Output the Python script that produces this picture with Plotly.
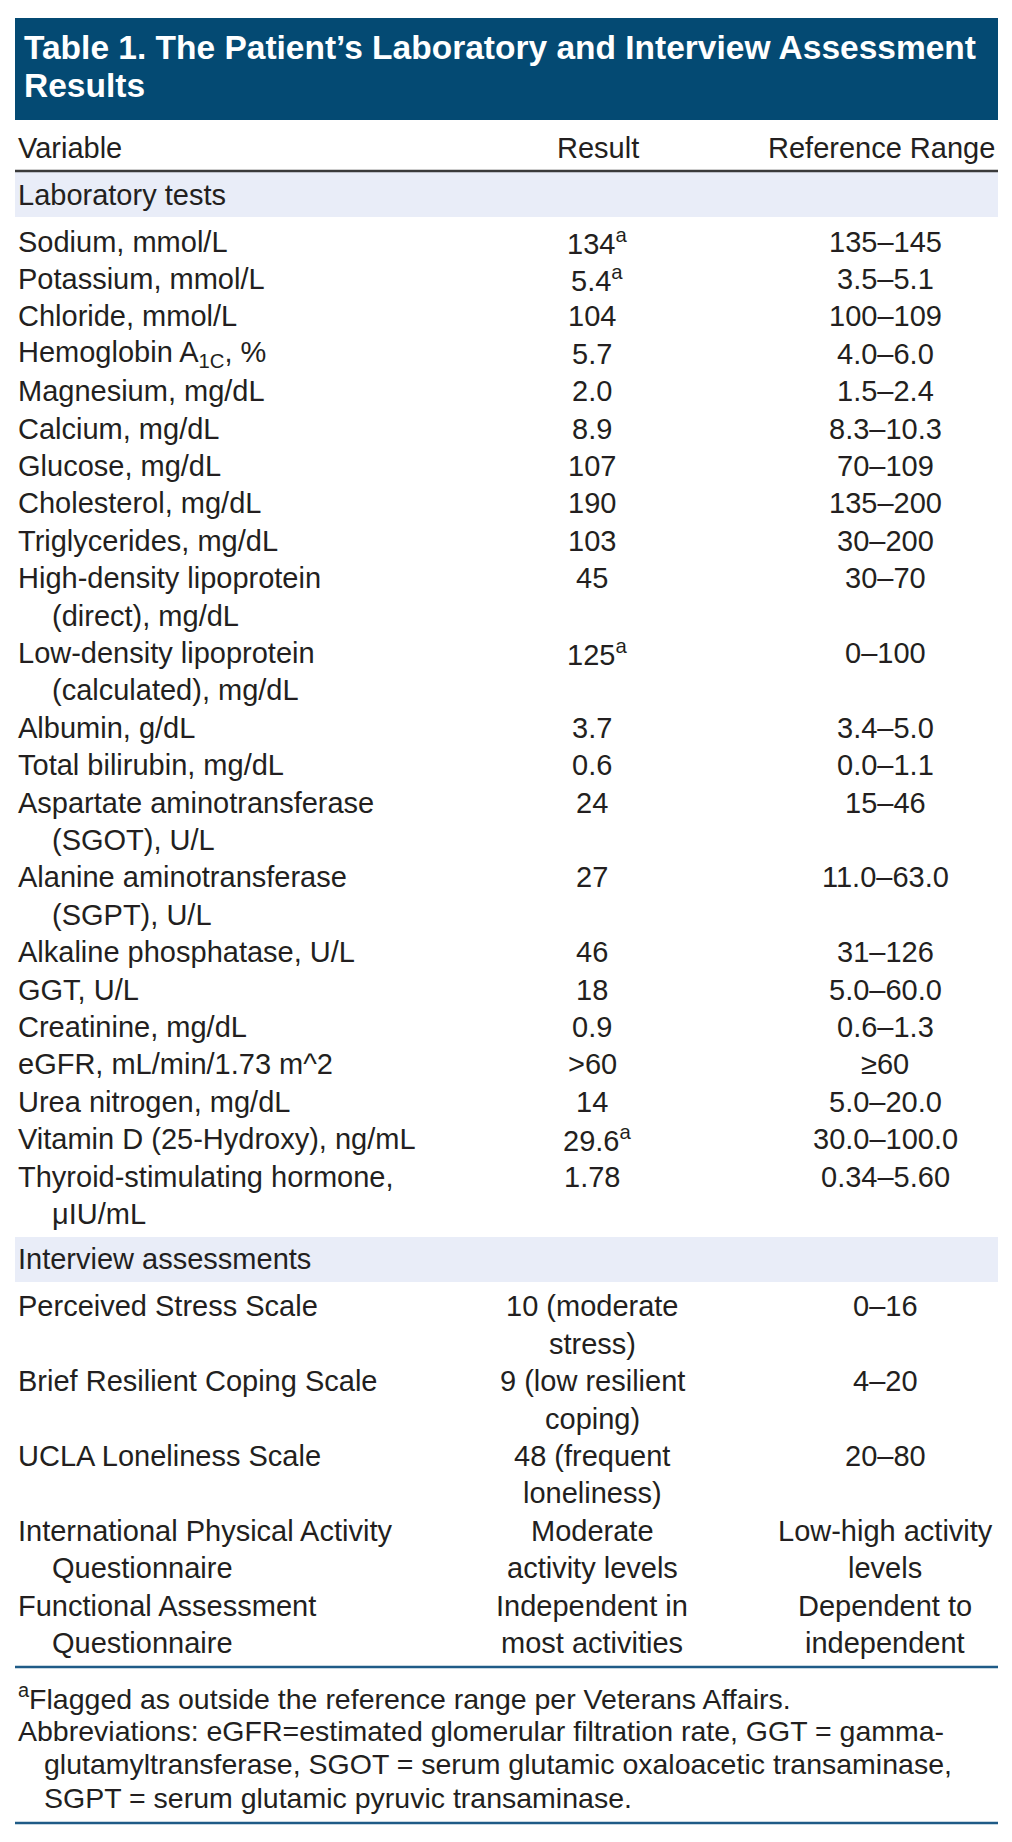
import plotly.graph_objects as go

# ---- table content ----
TITLE_LINES = ["Table 1. The Patient’s Laboratory and Interview Assessment", "Results"]
COLUMNS = ["Variable", "Result", "Reference Range"]

LAB_SECTION = "Laboratory tests"
LAB_VARS = [
    "Sodium, mmol/L", "Potassium, mmol/L", "Chloride, mmol/L",
    "Hemoglobin A<sub>1C</sub>, %", "Magnesium, mg/dL", "Calcium, mg/dL",
    "Glucose, mg/dL", "Cholesterol, mg/dL", "Triglycerides, mg/dL",
    "High-density lipoprotein|(direct), mg/dL",
    "Low-density lipoprotein|(calculated), mg/dL",
    "Albumin, g/dL", "Total bilirubin, mg/dL",
    "Aspartate aminotransferase|(SGOT), U/L",
    "Alanine aminotransferase|(SGPT), U/L",
    "Alkaline phosphatase, U/L", "GGT, U/L", "Creatinine, mg/dL",
    "eGFR, mL/min/1.73 m^2", "Urea nitrogen, mg/dL",
    "Vitamin D (25-Hydroxy), ng/mL", "Thyroid-stimulating hormone,|μIU/mL",
]
LAB_RESULTS = ["134", "5.4", "104", "5.7", "2.0", "8.9", "107", "190", "103", "45",
               "125", "3.7", "0.6", "24", "27", "46", "18", "0.9", ">60", "14",
               "29.6", "1.78"]
LAB_FLAGGED = [1, 1, 0, 0, 0, 0, 0, 0, 0, 0, 1, 0, 0, 0, 0, 0, 0, 0, 0, 0, 1, 0]
LAB_REFS = ["135–145", "3.5–5.1", "100–109", "4.0–6.0", "1.5–2.4", "8.3–10.3",
            "70–109", "135–200", "30–200", "30–70", "0–100", "3.4–5.0", "0.0–1.1",
            "15–46", "11.0–63.0", "31–126", "5.0–60.0", "0.6–1.3", "≥60",
            "5.0–20.0", "30.0–100.0", "0.34–5.60"]

INT_SECTION = "Interview assessments"
INT_VARS = ["Perceived Stress Scale", "Brief Resilient Coping Scale",
            "UCLA Loneliness Scale", "International Physical Activity|Questionnaire",
            "Functional Assessment|Questionnaire"]
INT_RESULTS = ["10 (moderate|stress)", "9 (low resilient|coping)",
               "48 (frequent|loneliness)", "Moderate|activity levels",
               "Independent in|most activities"]
INT_FLAGGED = [0, 0, 0, 0, 0]
INT_REFS = ["0–16", "4–20", "20–80", "Low-high activity|levels",
            "Dependent to|independent"]

FOOTNOTES = [
    "<sup>a</sup>Flagged as outside the reference range per Veterans Affairs.",
    "Abbreviations: eGFR=estimated glomerular filtration rate, GGT = gamma-",
    "|glutamyltransferase, SGOT = serum glutamic oxaloacetic transaminase,",
    "|SGPT = serum glutamic pyruvic transaminase.",
]

# ---- styling ----
W, H = 1012, 1842
FONT = "Liberation Sans, Arial, sans-serif"
TEXT = "#231f20"
NAVY = "#044a73"
BAND = "#e9edf8"
RULE_BLUE = "#1f5b87"
BODY_SIZE = 29
FOOT_SIZE = 28.5

LEFT, RIGHT = 15, 998
TEXT_X, INDENT_X, FOOT_INDENT = 16, 50, 42
COL_X = [TEXT_X, 592, 885]
PITCH = 37.4
BAND_H = 45
FOOT_PITCH = 33.7

fig = go.Figure()
ann = []
shapes = []


def text(x, y, s, anchor="left", size=BODY_SIZE, color=TEXT, bold=False, shift=0):
    ann.append(dict(x=x, y=y, xref="x", yref="y", text=s, showarrow=False,
                    xanchor=anchor, yanchor="middle", xshift=shift,
                    font=dict(family=FONT, size=size, color=color,
                              weight="bold" if bold else "normal")))


def hline(y, color, width):
    shapes.append(dict(type="line", xref="x", yref="y", x0=LEFT, x1=RIGHT,
                       y0=y, y1=y, line=dict(color=color, width=width)))


def rect(y0, y1, color):
    shapes.append(dict(type="rect", xref="x", yref="y", x0=LEFT, x1=RIGHT,
                       y0=y0, y1=y1, fillcolor=color, line_width=0, layer="below"))


# title block
rect(18, 120, NAVY)
for i, line in enumerate(TITLE_LINES):
    text(22, 47 + i * 38.5, line, size=33.5, color="white", bold=True)

# column headings
text(COL_X[0], 148, COLUMNS[0])
text(COL_X[1] + 6, 148, COLUMNS[1], anchor="center")
text(COL_X[2] - 4, 148, COLUMNS[2], anchor="center")
hline(171, "#3a3a3a", 2.5)


def section(top, title, variables, results, flags, refs):
    rect(top, top + BAND_H, BAND)
    text(TEXT_X, top + BAND_H / 2, title)
    y = top + BAND_H + 24.5
    for var, res, fl, ref in zip(variables, results, flags, refs):
        v_lines = var.split("|")
        r_lines = res.split("|")
        f_lines = ref.split("|")
        for j, s in enumerate(v_lines):
            text(TEXT_X if j == 0 else INDENT_X, y + j * PITCH, s)
        for j, s in enumerate(r_lines):
            if j == 0 and fl:
                # nudge so the number itself stays centred, superscript hangs
                text(COL_X[1], y, s + "<sup>a</sup>", anchor="center", shift=5)
            else:
                text(COL_X[1], y + j * PITCH, s, anchor="center")
        for j, s in enumerate(f_lines):
            text(COL_X[2], y + j * PITCH, s, anchor="center")
        y += PITCH * max(len(v_lines), len(r_lines), len(f_lines))
    return y - PITCH


last = section(172, LAB_SECTION, LAB_VARS, LAB_RESULTS, LAB_FLAGGED, LAB_REFS)
last = section(last + 23, INT_SECTION, INT_VARS, INT_RESULTS, INT_FLAGGED, INT_REFS)

rule_y = last + 24
hline(rule_y, RULE_BLUE, 2.5)

fy = rule_y + 30
for i, s in enumerate(FOOTNOTES):
    indent = s.startswith("|")
    text(FOOT_INDENT if indent else TEXT_X, fy + i * FOOT_PITCH, s.lstrip("|"),
         size=FOOT_SIZE)
hline(fy + (len(FOOTNOTES) - 1) * FOOT_PITCH + 25, RULE_BLUE, 2.5)

fig.update_layout(
    width=W, height=H,
    margin=dict(l=0, r=0, t=0, b=0),
    paper_bgcolor="white", plot_bgcolor="white",
    xaxis=dict(range=[0, W], visible=False, fixedrange=True),
    yaxis=dict(range=[H, 0], visible=False, fixedrange=True),
    annotations=ann, shapes=shapes, showlegend=False,
)

fig.write_html("out.html", config={"displayModeBar": False},
               post_script="document.body.style.margin='0';")
